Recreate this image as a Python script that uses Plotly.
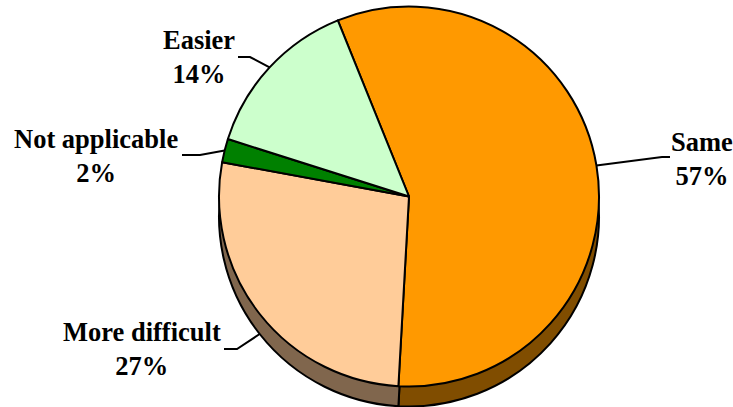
import math
import plotly.graph_objects as go

# Survey answers: how the task compares
labels = ["Same", "More difficult", "Not applicable", "Easier"]
values = [57, 27, 2, 14]

face_colors = ["#FF9900", "#FFCC99", "#008000", "#CCFFCC"]
side_colors = ["#804D00", "#80664D", "#004000", "#668066"]

# Canvas and pie geometry (pixels)
W, H = 733, 407
CX, CY, R = 409, 196.5, 190
DEPTH = 20
ROTATION = -22  # first slice starts 22 degrees left of 12 o'clock

# Label text centres and leader-line elbows (pixels)
label_center = {
    "Same": (702, 159),
    "More difficult": (142, 349),
    "Not applicable": (96, 156),
    "Easier": (199, 57),
}
label_elbow = {
    "Same": [(670, 157), (662, 157)],
    "More difficult": [(224, 349), (237, 349)],
    "Not applicable": [(182, 155), (200, 155)],
    "Easier": [(238, 57), (250, 57)],
}


def px_x(x):
    return x / W


def px_y(y):
    return 1 - y / H


def domain_for(cy):
    return dict(x=[px_x(CX - R), px_x(CX + R)],
                y=[px_y(cy + R), px_y(cy - R)])


fig = go.Figure()

# Lower copy of the pie forms the visible side wall
fig.add_trace(go.Pie(
    labels=labels, values=values, sort=False, direction="clockwise",
    rotation=ROTATION, domain=domain_for(CY + DEPTH),
    marker=dict(colors=side_colors, line=dict(color="black", width=2)),
    textinfo="none", hoverinfo="skip", showlegend=False,
))

# Top face
fig.add_trace(go.Pie(
    labels=labels, values=values, sort=False, direction="clockwise",
    rotation=ROTATION, domain=domain_for(CY),
    marker=dict(colors=face_colors, line=dict(color="black", width=2)),
    textinfo="none", hoverinfo="label+percent", showlegend=False,
))

total = sum(values)
cum = 0
shapes, annotations = [], []
for lab, v in zip(labels, values):
    mid = ROTATION + 360 * (cum + v / 2) / total
    cum += v
    a = math.radians(mid)
    ex = CX + R * math.sin(a)
    ey = CY - R * math.cos(a)
    if math.cos(a) < 0:  # front half: attach to the side wall
        ey += DEPTH
    (x0, y0), (x1, y1) = label_elbow[lab]
    path = (f"M {px_x(x0)} {px_y(y0)} L {px_x(x1)} {px_y(y1)} "
            f"L {px_x(ex)} {px_y(ey)}")
    shapes.append(dict(type="path", xref="paper", yref="paper", path=path,
                       line=dict(color="black", width=2)))
    tx, ty = label_center[lab]
    pct = round(100 * v / total)
    annotations.append(dict(
        x=px_x(tx), y=px_y(ty), xref="paper", yref="paper",
        xanchor="center", yanchor="middle", showarrow=False,
        text=f"<b>{lab}</b><br><b>{pct}%</b>", align="center",
        font=dict(family="Liberation Serif", size=26.5, color="black"),
    ))

fig.update_layout(
    width=W, height=H,
    margin=dict(l=0, r=0, t=0, b=0),
    paper_bgcolor="white", plot_bgcolor="white",
    shapes=shapes, annotations=annotations,
)

fig.write_html("out.html")
